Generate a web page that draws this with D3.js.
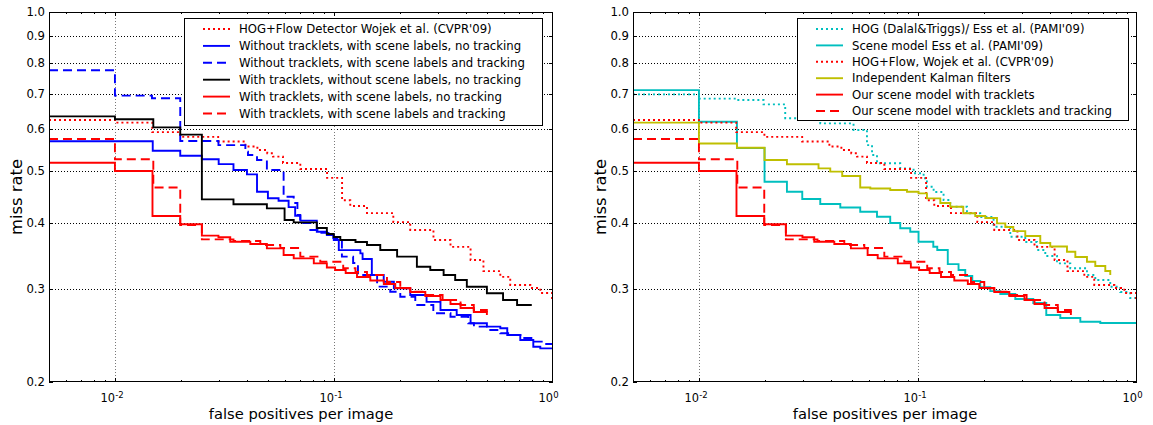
<!DOCTYPE html>
<html><head><meta charset="utf-8">
<script src="https://cdn.jsdelivr.net/npm/d3@7/dist/d3.min.js"></script>
<style>html,body{margin:0;padding:0;background:#fff;} svg{display:block;font-family:"DejaVu Sans",sans-serif;}</style>
</head><body>
<svg id="chart" width="1153" height="425"></svg>
<script>
// ---------- axis data ----------
const xDomain = [0.005, 1];
const yDomain = [0.2, 1];
const yTickValues = [0.2, 0.3, 0.4, 0.5, 0.6, 0.7, 0.8, 0.9, 1.0];
const yTickLabels = ["0.2", "0.3", "0.4", "0.5", "0.6", "0.7", "0.8", "0.9", "1.0"];
const xMajorTicks = [0.01, 0.1, 1];
const xTickBase = "10";
const xTickExponents = ["-2", "-1", "0"];
const xLabel = "false positives per image";
const yLabel = "miss rate";

// ---------- series data: [fppi, miss rate] ----------
const hogFlowWojek = [[0.005,0.625],[0.01,0.618],[0.0148,0.593],[0.0199,0.581],[0.0296,0.5695],[0.0394,0.557],[0.0447,0.5485],[0.0496,0.541],[0.0527,0.533],[0.0585,0.5185],[0.0702,0.505],[0.093,0.486],[0.1089,0.441],[0.1187,0.430],[0.1415,0.417],[0.1866,0.401],[0.223,0.3875],[0.2846,0.371],[0.3404,0.360],[0.4205,0.340],[0.4813,0.324],[0.5747,0.316],[0.638,0.305],[0.788,0.301],[0.875,0.2946],[0.99,0.2845],[1.0,0.2845]];
const noTrackletsLabels = [[0.005,0.570],[0.01488,0.547],[0.01987,0.535],[0.02494,0.527],[0.02976,0.516],[0.03477,0.503],[0.04006,0.4935],[0.04453,0.4576],[0.04994,0.4447],[0.05585,0.440],[0.06208,0.428],[0.0665,0.412],[0.0702,0.4035],[0.0835,0.3844],[0.0928,0.379],[0.0998,0.371],[0.1052,0.355],[0.132,0.350],[0.1351,0.3415],[0.1489,0.3185],[0.1687,0.3094],[0.1877,0.3006],[0.223,0.292],[0.2647,0.2834],[0.3064,0.2735],[0.3633,0.2677],[0.4205,0.2582],[0.4991,0.2545],[0.5747,0.2527],[0.6183,0.2454],[0.709,0.2401],[0.813,0.2332],[0.875,0.2315],[1.0,0.2281]];
const noTrackletsLabelsTracking = [[0.005,0.776],[0.01,0.695],[0.01476,0.687],[0.01987,0.5705],[0.02969,0.5603],[0.0394,0.5445],[0.0405,0.5367],[0.04453,0.5253],[0.0494,0.503],[0.0589,0.4477],[0.0655,0.4357],[0.0681,0.4135],[0.0702,0.3993],[0.078,0.3875],[0.0866,0.3826],[0.0993,0.3742],[0.1087,0.345],[0.1223,0.3356],[0.1287,0.3185],[0.1574,0.3028],[0.1807,0.2962],[0.2008,0.2898],[0.2351,0.2796],[0.2842,0.2697],[0.3404,0.2657],[0.4105,0.2582],[0.4355,0.2545],[0.5005,0.2508],[0.5747,0.2473],[0.6536,0.2454],[0.7254,0.2422],[0.8055,0.2384],[0.9112,0.2359],[1.0,0.2332]];
const trackletsNoLabels = [[0.005,0.635],[0.01,0.627],[0.01497,0.6055],[0.01987,0.5866],[0.02494,0.4427],[0.03477,0.4332],[0.0494,0.4257],[0.0595,0.4046],[0.0655,0.4005],[0.0835,0.3908],[0.0928,0.3808],[0.0998,0.3758],[0.1069,0.3709],[0.1254,0.3677],[0.1415,0.3629],[0.1627,0.3551],[0.1942,0.345],[0.2391,0.3302],[0.2752,0.3255],[0.3167,0.3185],[0.3576,0.3117],[0.4042,0.3027],[0.4991,0.2942],[0.5915,0.2857],[0.6855,0.2796],[0.8,0.2796]];
const trackletsLabels = [[0.005,0.685],[0.005,0.519],[0.01,0.5008],[0.01484,0.4117],[0.01987,0.3971],[0.02494,0.378],[0.02969,0.3753],[0.03361,0.3681],[0.0415,0.3645],[0.0494,0.3577],[0.0589,0.3475],[0.0655,0.3425],[0.0809,0.335],[0.0928,0.329],[0.1012,0.3255],[0.1131,0.3213],[0.1274,0.3157],[0.1465,0.311],[0.1689,0.3063],[0.1905,0.301],[0.223,0.2958],[0.2613,0.2907],[0.3064,0.2857],[0.3404,0.2808],[0.3784,0.276],[0.4349,0.2712],[0.499,0.2677]];
const trackletsLabelsTracking = [[0.005,0.5754],[0.01,0.527],[0.01497,0.4661],[0.01987,0.3959],[0.02494,0.372],[0.03477,0.3693],[0.0461,0.3629],[0.0569,0.3582],[0.0702,0.345],[0.0866,0.3375],[0.1102,0.328],[0.1254,0.3227],[0.1415,0.3185],[0.1746,0.309],[0.2008,0.3006],[0.223,0.2962],[0.2613,0.292],[0.3133,0.2857],[0.3784,0.2796],[0.4349,0.2735],[0.499,0.2688]];
const hogDalalEss = [[0.005,0.699],[0.01,0.686],[0.01491,0.682],[0.01972,0.669],[0.02477,0.630],[0.0358,0.616],[0.0508,0.5986],[0.0585,0.5603],[0.0617,0.5367],[0.065,0.5178],[0.083,0.5066],[0.0955,0.4958],[0.1061,0.4852],[0.1099,0.4677],[0.1179,0.457],[0.1309,0.4414],[0.1404,0.4287],[0.1674,0.4166],[0.1925,0.41],[0.2214,0.3929],[0.2639,0.3762],[0.309,0.3677],[0.3494,0.3551],[0.3813,0.346],[0.4313,0.335],[0.496,0.328],[0.591,0.3185],[0.645,0.3117],[0.755,0.3027],[0.839,0.2958],[0.931,0.2882],[1.0,0.282]];
const sceneModelEss = [[0.005,0.829],[0.005,0.712],[0.01,0.6205],[0.01491,0.5534],[0.01993,0.478],[0.02522,0.4575],[0.02963,0.4432],[0.0358,0.4338],[0.0442,0.4272],[0.0545,0.4195],[0.065,0.4105],[0.0747,0.3993],[0.083,0.3903],[0.0922,0.3846],[0.1006,0.3681],[0.1175,0.3602],[0.1225,0.3551],[0.1368,0.334],[0.1532,0.3255],[0.1644,0.3171],[0.177,0.3103],[0.1925,0.3022],[0.2139,0.297],[0.2376,0.2932],[0.2782,0.287],[0.3361,0.282],[0.3853,0.2677],[0.4465,0.2642],[0.5511,0.26],[0.6799,0.2585],[1.0,0.2573]];
const kalmanFilters = [[0.005,0.744],[0.005,0.618],[0.01,0.5644],[0.01491,0.554],[0.01993,0.5253],[0.02522,0.5157],[0.03516,0.5066],[0.03977,0.4993],[0.0451,0.4901],[0.0545,0.4661],[0.0606,0.464],[0.0747,0.461],[0.0891,0.4575],[0.1006,0.4543],[0.1099,0.4446],[0.1265,0.4356],[0.1404,0.4287],[0.161,0.4166],[0.1826,0.4117],[0.2029,0.4081],[0.2295,0.3988],[0.2504,0.3924],[0.2724,0.3856],[0.309,0.3774],[0.3618,0.3661],[0.4018,0.3606],[0.479,0.3525],[0.5229,0.3444],[0.591,0.3374],[0.645,0.3312],[0.7166,0.3241],[0.755,0.3185]];

// ---------- legend labels ----------
const leftLabels = ["HOG+Flow Detector Wojek et al. (CVPR'09)","Without tracklets, with scene labels, no tracking","Without tracklets, with scene labels and tracking","With tracklets, without scene labels, no tracking","With tracklets, with scene labels, no tracking","With tracklets, with scene labels and tracking"];
const rightLabels = ["HOG (Dalal&Triggs)/ Ess et al. (PAMI'09)","Scene model Ess et al. (PAMI'09)","HOG+Flow, Wojek et al. (CVPR'09)","Independent Kalman filters","Our scene model with tracklets","Our scene model with tracklets and tracking"];

const RED = "#ff0000", BLUE = "#0000ff", BLACK = "#000000", CYAN = "#00bfbf", OLIVE = "#bfbf00";
const DOT = "2,3", DASH = "9,5";

const panels = [
  { left: 49, right: 553, top: 12, bottom: 382,
    series: [
      { data: hogFlowWojek, color: RED, dash: DOT, label: leftLabels[0] },
      { data: noTrackletsLabels, color: BLUE, dash: null, label: leftLabels[1] },
      { data: noTrackletsLabelsTracking, color: BLUE, dash: DASH, label: leftLabels[2] },
      { data: trackletsNoLabels, color: BLACK, dash: null, label: leftLabels[3] },
      { data: trackletsLabels, color: RED, dash: null, label: leftLabels[4] },
      { data: trackletsLabelsTracking, color: RED, dash: DASH, label: leftLabels[5] }
    ],
    legend: { x: 184, y: 18, w: 358, h: 107, row: 16.9, first: 11 } },
  { left: 633, right: 1137, top: 12, bottom: 382,
    series: [
      { data: hogDalalEss, color: CYAN, dash: DOT, label: rightLabels[0] },
      { data: sceneModelEss, color: CYAN, dash: null, label: rightLabels[1] },
      { data: hogFlowWojek, color: RED, dash: DOT, label: rightLabels[2] },
      { data: kalmanFilters, color: OLIVE, dash: null, label: rightLabels[3] },
      { data: trackletsLabels, color: RED, dash: null, label: rightLabels[4] },
      { data: trackletsLabelsTracking, color: RED, dash: DASH, label: rightLabels[5] }
    ],
    legend: { x: 797, y: 18, w: 331, h: 102, row: 16.4, first: 11 } }
];

const svg = d3.select("#chart");

panels.forEach((P, pi) => {
  const x = d3.scaleLog().domain(xDomain).range([P.left, P.right]);
  const y = d3.scaleLog().domain(yDomain).range([P.bottom, P.top]);
  const g = svg.append("g");
  const clipId = "clip" + pi;
  g.append("clipPath").attr("id", clipId).append("rect")
    .attr("x", P.left).attr("y", P.top).attr("width", P.right - P.left).attr("height", P.bottom - P.top);

  // grid
  g.selectAll(".hgrid").data(yTickValues.slice(1, -1)).enter().append("line")
    .attr("x1", P.left).attr("x2", P.right)
    .attr("y1", d => Math.round(y(d)) + 0.5).attr("y2", d => Math.round(y(d)) + 0.5)
    .attr("stroke", "#000").attr("stroke-width", 1).attr("stroke-dasharray", "1,2");
  g.selectAll(".vgrid").data(xMajorTicks.slice(0, -1)).enter().append("line")
    .attr("y1", P.top).attr("y2", P.bottom)
    .attr("x1", d => Math.round(x(d)) + 0.5).attr("x2", d => Math.round(x(d)) + 0.5)
    .attr("stroke", "#777").attr("stroke-width", 1).attr("stroke-dasharray", "1,2");

  // curves
  const line = d3.line().x(d => x(d[0])).y(d => y(d[1])).curve(d3.curveStepAfter);
  const cg = g.append("g").attr("clip-path", `url(#${clipId})`);
  P.series.forEach(s => {
    cg.append("path").attr("d", line(s.data)).attr("fill", "none")
      .attr("stroke", s.color).attr("stroke-width", 1.9)
      .attr("stroke-dasharray", s.dash).attr("stroke-linejoin", "miter");
  });

  // frame
  g.append("rect").attr("x", P.left + 0.5).attr("y", P.top + 0.5)
    .attr("width", P.right - P.left - 1).attr("height", P.bottom - P.top - 1)
    .attr("fill", "none").attr("stroke", "#000").attr("stroke-width", 1);

  // x ticks (major + minor, inside, top and bottom)
  const allX = x.ticks().filter(t => t > xDomain[0] * 1.0001 && t < xDomain[1] * 0.9999);
  allX.forEach(t => {
    const isMajor = xMajorTicks.some(m => Math.abs(m - t) / m < 1e-6);
    const len = isMajor ? 4 : 2;
    const xp = Math.round(x(t)) + 0.5;
    g.append("line").attr("x1", xp).attr("x2", xp).attr("y1", P.bottom).attr("y2", P.bottom - len).attr("stroke", "#000");
    g.append("line").attr("x1", xp).attr("x2", xp).attr("y1", P.top).attr("y2", P.top + len).attr("stroke", "#000");
  });
  // y ticks
  yTickValues.forEach(t => {
    const yp = Math.round(y(t)) + 0.5;
    g.append("line").attr("x1", P.left).attr("x2", P.left + 4).attr("y1", yp).attr("y2", yp).attr("stroke", "#000");
    g.append("line").attr("x1", P.right).attr("x2", P.right - 4).attr("y1", yp).attr("y2", yp).attr("stroke", "#000");
  });

  // y tick labels
  g.selectAll(".ylab").data(yTickValues).enter().append("text")
    .attr("x", P.left - 4).attr("y", d => y(d) + 4)
    .attr("text-anchor", "end").attr("font-size", "11.7px").attr("fill", "#000")
    .text((d, i) => yTickLabels[i]);

  // x tick labels with superscript exponent
  xMajorTicks.forEach((t, i) => {
    g.append("text").attr("x", x(t)).attr("y", 401.5).attr("text-anchor", "end")
      .attr("font-size", "11.4px").attr("fill", "#000").text(xTickBase);
    g.append("text").attr("x", x(t) + 0.3).attr("y", 397.5).attr("text-anchor", "start")
      .attr("font-size", "8.5px").attr("fill", "#000").text(xTickExponents[i]);
  });

  // axis labels
  g.append("text").attr("x", (P.left + P.right) / 2).attr("y", 418.5)
    .attr("text-anchor", "middle").attr("font-size", "14.7px").attr("fill", "#000").text(xLabel);
  g.append("text").attr("transform", `translate(${P.left - 27.5},${(P.top + P.bottom) / 2}) rotate(-90)`)
    .attr("text-anchor", "middle").attr("font-size", "16.4px").attr("fill", "#000").text(yLabel);

  // legend
  const L = P.legend;
  const lg = g.append("g");
  lg.append("rect").attr("x", L.x + 0.5).attr("y", L.y + 0.5).attr("width", L.w).attr("height", L.h)
    .attr("fill", "#fff").attr("stroke", "#000").attr("stroke-width", 1);
  P.series.forEach((s, i) => {
    const ry = L.y + L.first + i * L.row;
    lg.append("line").attr("x1", L.x + 19).attr("x2", L.x + 46).attr("y1", ry).attr("y2", ry)
      .attr("stroke", s.color).attr("stroke-width", 1.9).attr("stroke-dasharray", s.dash);
    lg.append("text").attr("x", L.x + 55).attr("y", ry + 4.2).attr("font-size", "11.7px")
      .attr("fill", "#000").text(s.label);
  });
});
</script>
</body></html>
